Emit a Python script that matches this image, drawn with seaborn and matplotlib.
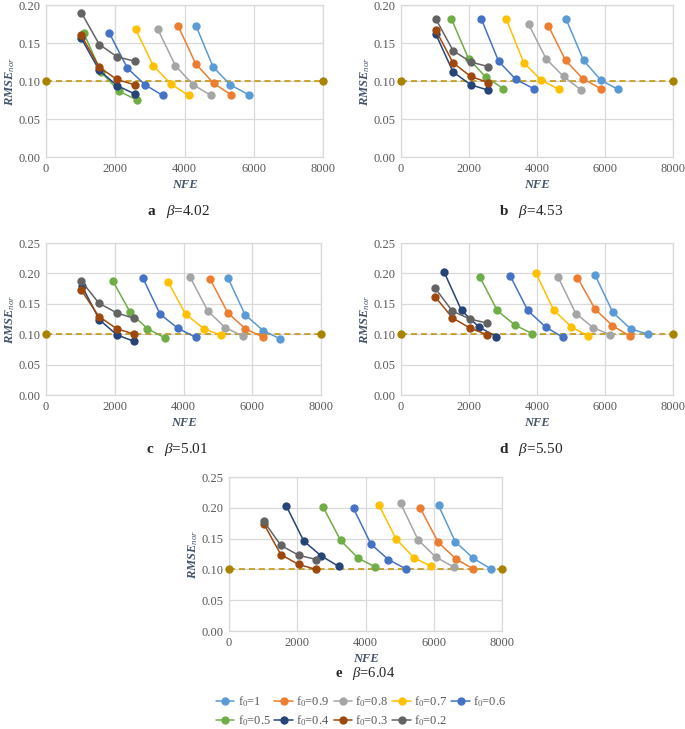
import numpy as np
import pandas as pd
import matplotlib
matplotlib.use("Agg")
import matplotlib.pyplot as plt
from matplotlib.lines import Line2D
import seaborn as sns

# RMSE_nor vs NFE for different f0, five beta values (panels a-e)

f0_levels = ["1", "0.9", "0.8", "0.7", "0.6", "0.5", "0.4", "0.3", "0.2"]
f0_colors = ["#5B9BD5", "#ED7D31", "#A5A5A5", "#FFC000", "#4472C4",
             "#70AD47", "#264478", "#9E480E", "#636363"]

nfe_a = [[4330, 4820, 5320, 5850], [3810, 4320, 4840, 5340], [3230, 3740, 4250, 4770],
         [2590, 3100, 3610, 4120], [1830, 2350, 2860, 3370], [1090, 1590, 2100, 2620],
         [1020, 1540, 2050, 2560], [1020, 1540, 2050, 2560], [1020, 1540, 2050, 2560]]
rmse_a = [[0.173, 0.119, 0.095, 0.082], [0.173, 0.123, 0.097, 0.082], [0.168, 0.120, 0.095, 0.081],
          [0.168, 0.120, 0.096, 0.081], [0.163, 0.117, 0.095, 0.081], [0.163, 0.112, 0.087, 0.075],
          [0.156, 0.114, 0.094, 0.083], [0.160, 0.118, 0.102, 0.095], [0.190, 0.148, 0.132, 0.126]]

nfe_b = [[4850, 5370, 5880, 6380], [4330, 4840, 5350, 5870], [3750, 4270, 4780, 5300],
         [3100, 3610, 4130, 4650], [2360, 2870, 3380, 3900], [1480, 1990, 2500, 3010],
         [1020, 1530, 2050, 2560], [1020, 1530, 2050, 2560], [1020, 1530, 2050, 2560]]
rmse_b = [[0.182, 0.127, 0.101, 0.089], [0.173, 0.127, 0.103, 0.090], [0.175, 0.129, 0.106, 0.088],
          [0.181, 0.124, 0.101, 0.089], [0.182, 0.126, 0.102, 0.090], [0.182, 0.129, 0.105, 0.090],
          [0.162, 0.112, 0.095, 0.088], [0.167, 0.124, 0.106, 0.098], [0.182, 0.140, 0.125, 0.119]]

nfe_c = [[5290, 5790, 6320, 6820], [4780, 5290, 5800, 6320], [4190, 4710, 5210, 5720],
         [3550, 4060, 4590, 5090], [2820, 3320, 3830, 4350], [1940, 2450, 2950, 3460],
         [1040, 1550, 2060, 2570], [1020, 1540, 2060, 2570], [1020, 1540, 2060, 2570]]
rmse_c = [[0.193, 0.132, 0.106, 0.092], [0.190, 0.135, 0.109, 0.095], [0.194, 0.138, 0.111, 0.097],
          [0.186, 0.133, 0.109, 0.098], [0.192, 0.133, 0.110, 0.095], [0.188, 0.136, 0.109, 0.094],
          [0.180, 0.124, 0.099, 0.088], [0.173, 0.129, 0.109, 0.100], [0.188, 0.151, 0.135, 0.126]]

nfe_d = [[5710, 6230, 6750, 7250], [5190, 5710, 6220, 6730], [4620, 5140, 5650, 6150],
         [3970, 4490, 5010, 5510], [3220, 3730, 4250, 4760], [2320, 2830, 3350, 3860],
         [1270, 1780, 2290, 2800], [1000, 1510, 2030, 2540], [1000, 1510, 2030, 2540]]
rmse_d = [[0.197, 0.136, 0.109, 0.100], [0.193, 0.141, 0.114, 0.097], [0.194, 0.134, 0.111, 0.099],
          [0.200, 0.140, 0.112, 0.097], [0.195, 0.139, 0.112, 0.095], [0.194, 0.139, 0.115, 0.101],
          [0.202, 0.139, 0.112, 0.096], [0.162, 0.127, 0.110, 0.099], [0.176, 0.138, 0.125, 0.118]]

nfe_e = [[6140, 6630, 7160, 7670], [5610, 6130, 6650, 7150], [5030, 5540, 6060, 6580],
         [4390, 4900, 5420, 5920], [3650, 4160, 4670, 5180], [2760, 3270, 3790, 4290],
         [1680, 2190, 2700, 3210], [1020, 1520, 2040, 2560], [1020, 1520, 2040, 2560]]
rmse_e = [[0.204, 0.145, 0.118, 0.101], [0.199, 0.144, 0.117, 0.101], [0.207, 0.148, 0.120, 0.104],
          [0.205, 0.149, 0.119, 0.105], [0.199, 0.141, 0.116, 0.101], [0.201, 0.147, 0.118, 0.104],
          [0.203, 0.146, 0.122, 0.105], [0.174, 0.124, 0.108, 0.100], [0.178, 0.139, 0.123, 0.116]]

panel_letters = ["a", "b", "c", "d", "e"]
betas = ["4.02", "4.53", "5.01", "5.50", "6.04"]
y_max = [0.20, 0.20, 0.25, 0.25, 0.25]
threshold_nfe = [0, 8000]
threshold_rmse = [0.10, 0.10]

sns.set_style("white")
plt.rcParams["font.family"] = ["Liberation Serif", "DejaVu Serif"]
plt.rcParams["mathtext.fontset"] = "custom"
plt.rcParams["mathtext.rm"] = "Liberation Serif"
plt.rcParams["mathtext.it"] = "Liberation Serif:italic"
plt.rcParams["mathtext.bf"] = "Liberation Serif:bold"

W, H = 685, 729
fig = plt.figure(figsize=(W / 100, H / 100), dpi=100)

# axes boxes in pixels: left, top, right, bottom
boxes = [(46, 5, 323, 157), (401, 5, 673, 157),
         (46, 243, 321, 395), (401, 243, 673, 395),
         (229, 477, 502, 631)]

palette = dict(zip(f0_levels, f0_colors))
label_col = "#44546A"

all_nfe = [nfe_a, nfe_b, nfe_c, nfe_d, nfe_e]
all_rmse = [rmse_a, rmse_b, rmse_c, rmse_d, rmse_e]

for k in range(5):
    l, t, r, b = boxes[k]
    ax = fig.add_axes([l / W, 1 - b / H, (r - l) / W, (b - t) / H])
    rows = []
    for i, f in enumerate(f0_levels):
        for x, y in zip(all_nfe[k][i], all_rmse[k][i]):
            rows.append({"f0": f, "NFE": x, "RMSE": y})
    df = pd.DataFrame(rows)

    sns.lineplot(x=threshold_nfe, y=threshold_rmse, ax=ax, color="#BF9000",
                 linestyle=(0, (4, 2.5)), linewidth=1.1, marker="o", markersize=6,
                 markeredgewidth=0, markerfacecolor="#A88400", clip_on=False, zorder=3)
    sns.lineplot(data=df, x="NFE", y="RMSE", hue="f0", hue_order=f0_levels,
                 palette=palette, marker="o", markersize=6, markeredgewidth=0,
                 linewidth=1.1, sort=False, estimator=None, legend=False, ax=ax, zorder=4)

    ax.set_xlim(0, 8000)
    ax.set_ylim(0, y_max[k])
    ax.set_xticks(np.arange(0, 8001, 2000))
    ax.set_yticks(np.arange(0, y_max[k] + 0.001, 0.05))
    ax.set_yticklabels([f"{v:.2f}" for v in np.arange(0, y_max[k] + 0.001, 0.05)])
    ax.grid(True, color="#D9D9D9", linewidth=0.9)
    ax.set_axisbelow(True)
    for s in ax.spines.values():
        s.set_color("#D9D9D9")
        s.set_linewidth(0.9)
    ax.tick_params(length=0, labelsize=9, colors="#595959", pad=4)
    ax.set_xlabel("NFE", fontstyle="italic", fontweight="bold", color=label_col,
                  fontsize=9, labelpad=3)
    ax.set_ylabel(r"RMSE$_{nor}$", fontstyle="italic", fontweight="bold",
                  color=label_col, fontsize=9, labelpad=1)

    cx = (l + r) / 2 - (6 if k < 4 else 0)
    cy = b + 54 if k < 4 else b + 43
    fig.text(cx / W, 1 - cy / H, rf"$\mathbf{{{panel_letters[k]}}}$   $\mathit{{β}}$={betas[k]}",
             ha="center", va="center", fontsize=11 if k < 4 else 10.5)

handles = [Line2D([], [], color=c, marker="o", markersize=6, markeredgewidth=0, linewidth=1.1)
           for c in f0_colors]
labels = [rf"f$_0$={f}" for f in f0_levels]
order = [0, 5, 1, 6, 2, 7, 3, 8, 4]
fig.legend([handles[i] for i in order], [labels[i] for i in order], ncol=5,
           loc="center", bbox_to_anchor=(361 / W, 1 - 711 / H), frameon=False,
           fontsize=9, handlelength=1.5, handletextpad=0.25, columnspacing=0.3,
           labelspacing=0.3, labelcolor="#595959")

fig.savefig("out.png", dpi=100, facecolor="white")
